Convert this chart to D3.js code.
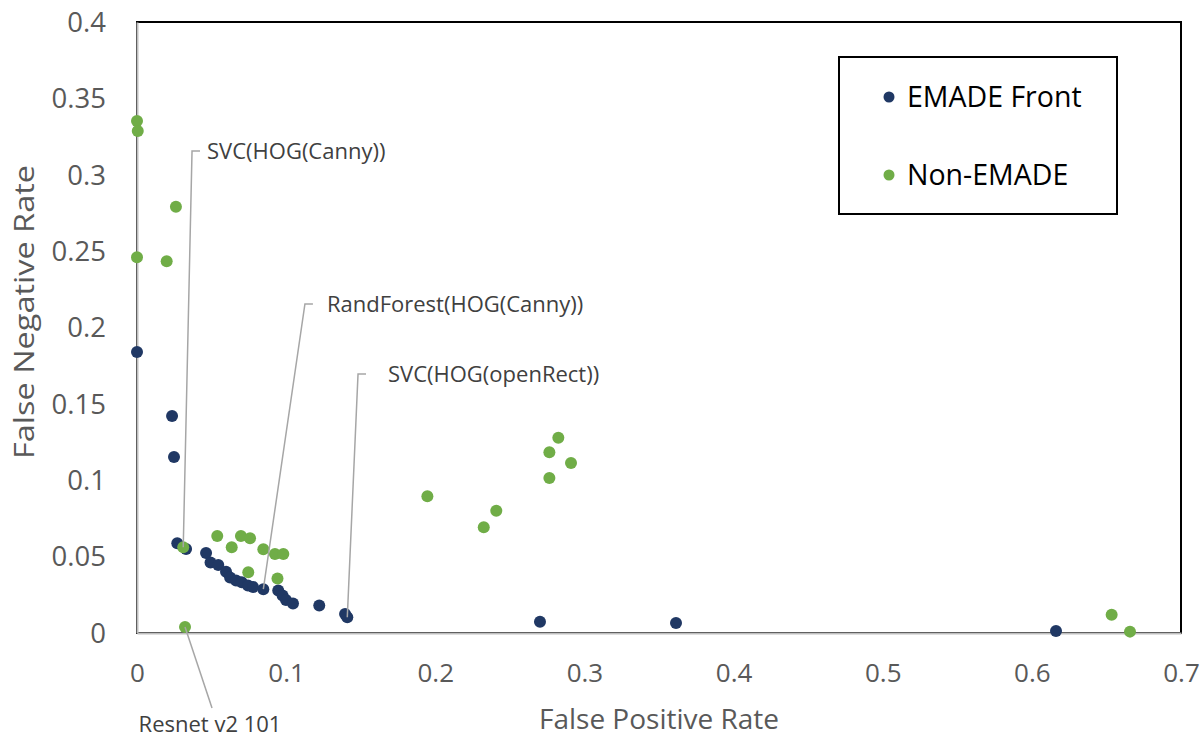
<!DOCTYPE html>
<html>
<head>
<meta charset="utf-8">
<title>EMADE Front vs Non-EMADE</title>
<script src="https://d3js.org/d3.v7.min.js"></script>
<style>
  body { margin: 0; background: #fff; }
  text { font-family: 'Open Sans', 'DejaVu Sans', sans-serif; }
  .tick-label { font-size: 26px; fill: #595959; }
  .axis-title { font-size: 28px; fill: #595959; }
  .legend-text { font-size: 28.5px; fill: #000; }
  .note { font-size: 22px; fill: #404040; }
  .leader { stroke: #a6a6a6; stroke-width: 1.5px; fill: none; }
</style>
</head>
<body>
<svg width="1204" height="739"></svg>
<script>
// EMADE Pareto front (false positive rate, false negative rate)
const emadeFPR = [0, 0.0235, 0.0248, 0.027, 0.0329, 0.0463, 0.0493, 0.0545, 0.0597, 0.0624, 0.0664,
                  0.0702, 0.0744, 0.0778, 0.0847, 0.0947, 0.0976, 0.0999, 0.1046, 0.1222, 0.1395,
                  0.141, 0.2702, 0.3614, 0.6162];
const emadeFNR = [0.184, 0.142, 0.1152, 0.0587, 0.055, 0.0524, 0.0462, 0.0445, 0.0401, 0.0363, 0.0344,
                  0.0332, 0.0311, 0.0301, 0.0287, 0.0278, 0.0245, 0.0216, 0.0193, 0.018, 0.0124,
                  0.0103, 0.0074, 0.0065, 0.0013];

// Non-EMADE models
const otherFPR = [0, 0.0005, 0.0261, 0, 0.0199, 0.031, 0.0538, 0.0635, 0.0697, 0.0758, 0.0847,
                  0.0925, 0.0981, 0.0746, 0.0942, 0.0322, 0.1947, 0.2325, 0.2409, 0.2765, 0.2825,
                  0.291, 0.2765, 0.6535, 0.6658];
const otherFNR = [0.3352, 0.3286, 0.2791, 0.246, 0.2433, 0.0561, 0.0635, 0.0561, 0.0635, 0.062, 0.0548,
                  0.0517, 0.0517, 0.0397, 0.0357, 0.0039, 0.0895, 0.0692, 0.0801, 0.1183, 0.1279,
                  0.1113, 0.1015, 0.012, 0.0009];

const xTicks = [0, 0.1, 0.2, 0.3, 0.4, 0.5, 0.6, 0.7];
const xTickLabels = ["0", "0.1", "0.2", "0.3", "0.4", "0.5", "0.6", "0.7"];
const yTicks = [0, 0.05, 0.1, 0.15, 0.2, 0.25, 0.3, 0.35, 0.4];
const yTickLabels = ["0", "0.05", "0.1", "0.15", "0.2", "0.25", "0.3", "0.35", "0.4"];

const seriesNames = ["EMADE Front", "Non-EMADE"];
const seriesColors = ["#203864", "#70ad47"];

// labelled points: target (fpr, fnr) and the elbow of the leader line (data units)
const notes = [
  { text: "SVC(HOG(Canny))", fpr: 0.031, fnr: 0.0561, ex: 0.0369, ey: 0.3156, side: "right", gap: 15 },
  { text: "RandForest(HOG(Canny))", fpr: 0.0847, fnr: 0.0287, ex: 0.1126, ey: 0.2154, side: "right", gap: 22 },
  { text: "SVC(HOG(openRect))", fpr: 0.141, fnr: 0.0103, ex: 0.1482, ey: 0.1696, side: "right", gap: 30 },
  { text: "Resnet v2 101", fpr: 0.0322, fnr: 0.0039, ex: 0.0503, ey: -0.0491, side: "below", gap: 16 }
];

const svg = d3.select("svg");
const margin = { top: 22, right: 23, bottom: 106, left: 137 };
const W = +svg.attr("width"), H = +svg.attr("height");

const x = d3.scaleLinear().domain([0, 0.7]).range([margin.left, W - margin.right]);
const y = d3.scaleLinear().domain([0, 0.4]).range([H - margin.bottom, margin.top]);

// plot frame
svg.append("rect")
  .attr("x", x(0)).attr("y", y(0.4))
  .attr("width", x(0.7) - x(0)).attr("height", y(0) - y(0.4))
  .attr("fill", "none").attr("stroke", "#000").attr("stroke-width", 2);

// axes
const xAxis = svg.append("g")
  .attr("transform", `translate(0,${y(0)})`)
  .call(d3.axisBottom(x).tickValues(xTicks).tickSize(0).tickSizeOuter(0)
    .tickFormat((d, i) => xTickLabels[i]));
const yAxis = svg.append("g")
  .attr("transform", `translate(${x(0)},0)`)
  .call(d3.axisLeft(y).tickValues(yTicks).tickSize(0).tickSizeOuter(0)
    .tickFormat((d, i) => yTickLabels[i]));

[xAxis, yAxis].forEach(g => {
  g.select(".domain").attr("stroke", "#bfbfbf").attr("stroke-width", 2);
  g.selectAll("text").attr("class", "tick-label").attr("font-size", null).attr("font-family", null);
});
xAxis.selectAll("text").attr("y", 49).attr("dy", 0);
yAxis.selectAll("text").attr("x", -31).attr("dy", "0.34em").style("font-size", "27.5px");

// axis titles
svg.append("text")
  .attr("class", "axis-title")
  .attr("x", (x(0) + x(0.7)) / 2).attr("y", 729)
  .attr("text-anchor", "middle")
  .text("False Positive Rate");
svg.append("text")
  .attr("class", "axis-title")
  .attr("transform", `translate(34,312) rotate(-90)`)
  .attr("text-anchor", "middle")
  .attr("font-size", 27)
  .attr("textLength", 294).attr("lengthAdjust", "spacingAndGlyphs")
  .text("False Negative Rate");

// points
const emade = emadeFPR.map((v, i) => ({ fpr: v, fnr: emadeFNR[i] }));
const others = otherFPR.map((v, i) => ({ fpr: v, fnr: otherFNR[i] }));

svg.append("g").selectAll("circle")
  .data(emade).enter().append("circle")
  .attr("cx", d => x(d.fpr)).attr("cy", d => y(d.fnr))
  .attr("r", 6).attr("fill", seriesColors[0]);

svg.append("g").selectAll("circle")
  .data(others).enter().append("circle")
  .attr("cx", d => x(d.fpr)).attr("cy", d => y(d.fnr))
  .attr("r", 6).attr("fill", seriesColors[1]);

// leader lines + labels
const noteG = svg.append("g");
notes.forEach(n => {
  const tx = x(n.fpr), ty = y(n.fnr), ex = x(n.ex), ey = y(n.ey);
  if (n.side === "right") {
    noteG.append("path").attr("class", "leader")
      .attr("d", `M${ex + 8},${ey}H${ex}L${tx},${ty}`);
    noteG.append("text").attr("class", "note")
      .attr("x", ex + n.gap).attr("y", ey).attr("dy", "0.35em")
      .text(n.text);
  } else {
    noteG.append("path").attr("class", "leader")
      .attr("d", `M${tx},${ty}L${ex},${ey}`);
    noteG.append("text").attr("class", "note")
      .attr("x", ex - 2).attr("y", ey + n.gap).attr("dy", "0.35em")
      .attr("text-anchor", "middle")
      .text(n.text);
  }
});

// legend
const legend = svg.append("g");
legend.append("rect")
  .attr("x", 839).attr("y", 57).attr("width", 278).attr("height", 157)
  .attr("fill", "#fff").attr("stroke", "#000").attr("stroke-width", 2);
seriesNames.forEach((name, i) => {
  const ly = 97 + i * 78;
  legend.append("circle").attr("cx", 889).attr("cy", ly).attr("r", 5.5).attr("fill", seriesColors[i]);
  legend.append("text").attr("class", "legend-text")
    .attr("x", 907).attr("y", ly).attr("dy", "0.35em").text(name);
});
</script>
</body>
</html>
